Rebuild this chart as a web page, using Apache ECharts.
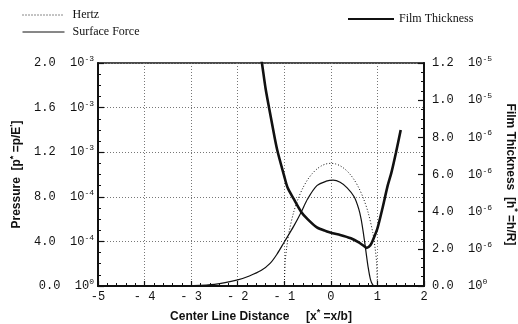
<!DOCTYPE html>
<html><head><meta charset="utf-8">
<script src="https://cdn.jsdelivr.net/npm/echarts@6/dist/echarts.min.js"></script>
<style>html,body{margin:0;padding:0;background:#fff}#c{width:518px;height:324px}</style>
</head><body><div id="c"></div>
<script>
// x tick labels
var xTickLabels = ['-5', '- 4', '- 3', '- 2', '- 1', '0', '1', '2'];
// left (pressure) tick labels: mantissa / exponent
var leftMant = ['0.0', '4.0', '8.0', '1.2', '1.6', '2.0'];
var leftExp = ['0', '-4', '-4', '-3', '-3', '-3'];
// right (film thickness) tick labels
var rightMant = ['0.0', '2.0', '4.0', '6.0', '8.0', '1.0', '1.2'];
var rightExp = ['0', '-6', '-6', '-6', '-6', '-5', '-5'];

// Hertz pressure (dotted)
var hertzX = [-1.0, -0.98, -0.95, -0.9, -0.8, -0.7, -0.6, -0.5, -0.4, -0.3, -0.2, -0.1, 0.0, 0.1, 0.2, 0.3, 0.4, 0.5, 0.6, 0.7, 0.8, 0.9, 0.95, 0.98, 1.0];
var hertzP = [0, 0.22e-3, 0.34e-3, 0.48e-3, 0.66e-3, 0.785e-3, 0.88e-3, 0.953e-3, 1.008e-3, 1.049e-3, 1.078e-3, 1.095e-3, 1.10e-3, 1.095e-3, 1.078e-3, 1.049e-3, 1.008e-3, 0.953e-3, 0.88e-3, 0.785e-3, 0.66e-3, 0.48e-3, 0.34e-3, 0.22e-3, 0];

// Surface force pressure (thin solid)
var sfX = [-5.0, -4.0, -3.5, -3.0, -2.5, -2.0, -1.75, -1.5, -1.3, -1.15, -1.0, -0.8, -0.64, -0.5, -0.3, -0.1, 0.05, 0.2, 0.35, 0.5, 0.6, 0.65, 0.7, 0.75, 0.8, 0.85, 0.9, 0.95, 2.0];
var sfP = [0, 0, 0.5e-6, 3e-6, 1.5e-5, 5.5e-5, 9.0e-5, 1.38e-4, 2.05e-4, 2.9e-4, 3.95e-4, 5.35e-4, 6.6e-4, 7.8e-4, 9.0e-4, 9.4e-4, 9.5e-4, 9.3e-4, 8.8e-4, 8.0e-4, 6.9e-4, 6.0e-4, 4.7e-4, 3.2e-4, 1.7e-4, 6e-5, 1e-5, 0, 0];

// Film thickness (thick solid, right axis)
var ftX = [-1.53, -1.48, -1.4, -1.32, -1.2, -1.14, -1.0, -0.93, -0.8, -0.64, -0.5, -0.3, -0.1, 0.04, 0.2, 0.43, 0.6, 0.71, 0.77, 0.85, 0.9, 1.0, 1.11, 1.22, 1.3, 1.4, 1.5];
var ftH = [12.8e-6, 12.0e-6, 10.6e-6, 9.5e-6, 7.9e-6, 7.2e-6, 5.9e-6, 5.3e-6, 4.7e-6, 4.0e-6, 3.6e-6, 3.15e-6, 2.95e-6, 2.84e-6, 2.75e-6, 2.57e-6, 2.35e-6, 2.15e-6, 2.05e-6, 2.2e-6, 2.45e-6, 3.1e-6, 4.2e-6, 5.4e-6, 6.1e-6, 7.2e-6, 8.4e-6];

function pairs(xs, ys) { return xs.map(function (x, i) { return [x, ys[i]]; }); }

var mono = 'Liberation Mono';
var labelRich = {
  m: { fontFamily: mono, fontSize: 12, color: '#111' },
  e: { fontFamily: mono, fontSize: 8, color: '#111', padding: [0, 0, 8, 0] }
};
var nameRich = {
  n: { fontFamily: 'Liberation Sans', fontWeight: 'bold', fontSize: 12, color: '#111' },
  s: { fontFamily: 'Liberation Sans', fontWeight: 'bold', fontSize: 9, color: '#111', padding: [0, 0, 8, 0] }
};

var chart = echarts.init(document.getElementById('c'));
chart.setOption({
  backgroundColor: '#fff',
  animation: false,
  grid: { left: 98, right: 94, top: 63, bottom: 38, show: true, borderColor: '#111', borderWidth: 1.5, backgroundColor: 'transparent', outerBoundsMode: 'none', containLabel: false },
  legend: [
    {
      orient: 'vertical', left: 17, top: 4, itemWidth: 42, itemHeight: 12, itemGap: 5,
      data: ['Hertz', 'Surface Force'],
      itemStyle: { opacity: 0 },
      lineStyle: { width: 1 },
      textStyle: { fontFamily: 'Liberation Serif', fontSize: 12, color: '#111', padding: [0, 0, 0, 3] }
    },
    {
      orient: 'horizontal', left: 342, top: 8, itemWidth: 46, itemHeight: 12,
      data: ['Film Thickness'],
      itemStyle: { opacity: 0 },
      textStyle: { fontFamily: 'Liberation Serif', fontSize: 12, color: '#111', padding: [0, 0, 0, 0] }
    }
  ],
  xAxis: {
    type: 'value', min: -5, max: 2, interval: 1,
    name: '{n|Center Line Distance     [x}{s|*}{n| =x/b]}',
    nameLocation: 'middle', nameGap: 21,
    nameTextStyle: { rich: nameRich },
    axisLine: { onZero: false, lineStyle: { color: '#111', width: 2 } },
    axisTick: { inside: true, length: 5, lineStyle: { color: '#111', width: 1.2 } },
    minorTick: { show: true, splitNumber: 5, length: 3, lineStyle: { color: '#111', width: 1 } },
    splitLine: { show: true, lineStyle: { color: '#777', type: [1, 2], width: 1 } },
    axisLabel: { margin: 5, fontFamily: mono, fontSize: 12, color: '#111',
      formatter: function (v) { return xTickLabels[Math.round(v + 5)]; } }
  },
  yAxis: [
    {
      type: 'value', min: 0, max: 2e-3, interval: 4e-4,
      name: '{n|Pressure  [p}{s|*}{n| =p/E}{s|\'}{n|]}',
      nameLocation: 'middle', nameGap: 70, nameRotate: 90,
      nameTextStyle: { rich: nameRich },
      axisLine: { show: true, onZero: false, lineStyle: { color: '#111', width: 2 } },
      axisTick: { inside: true, length: 6, lineStyle: { color: '#111', width: 1.2 } },
      minorTick: { show: true, splitNumber: 4, length: 3, lineStyle: { color: '#111', width: 1 } },
      splitLine: { show: true, lineStyle: { color: '#777', type: [1, 2], width: 1 } },
      axisLabel: { margin: 4, rich: labelRich,
        formatter: function (v) { var i = Math.round(v / 4e-4); return '{m|' + leftMant[i] + '  10}{e|' + leftExp[i] + '}'; } }
    },
    {
      type: 'value', min: 0, max: 1.2e-5, interval: 2e-6, position: 'right',
      name: '{n|Film Thickness  [h}{s|*}{n| =h/R]}',
      nameLocation: 'middle', nameGap: 78, nameRotate: -90,
      nameTextStyle: { rich: nameRich },
      axisLine: { show: true, onZero: false, lineStyle: { color: '#111', width: 2 } },
      axisTick: { inside: true, length: 6, lineStyle: { color: '#111', width: 1.2 } },
      minorTick: { show: true, splitNumber: 4, length: 3, lineStyle: { color: '#111', width: 1 } },
      splitLine: { show: false },
      axisLabel: { margin: 8, rich: labelRich,
        formatter: function (v) { var i = Math.round(v / 2e-6); return '{m|' + rightMant[i] + '  10}{e|' + rightExp[i] + '}'; } }
    }
  ],
  series: [
    { name: 'Hertz', type: 'line', yAxisIndex: 0, data: pairs(hertzX, hertzP), symbol: 'none', smooth: 0.3,
      lineStyle: { color: '#111', width: 1, type: [1, 2] }, itemStyle: { color: '#111' } },
    { name: 'Surface Force', type: 'line', yAxisIndex: 0, data: pairs(sfX, sfP), symbol: 'none', smooth: 0.3,
      lineStyle: { color: '#111', width: 1.2 }, itemStyle: { color: '#111' } },
    { name: 'Film Thickness', type: 'line', yAxisIndex: 1, data: pairs(ftX, ftH), symbol: 'none', smooth: 0.25,
      lineStyle: { color: '#111', width: 2.6 }, itemStyle: { color: '#111' } }
  ]
});
</script></body></html>
